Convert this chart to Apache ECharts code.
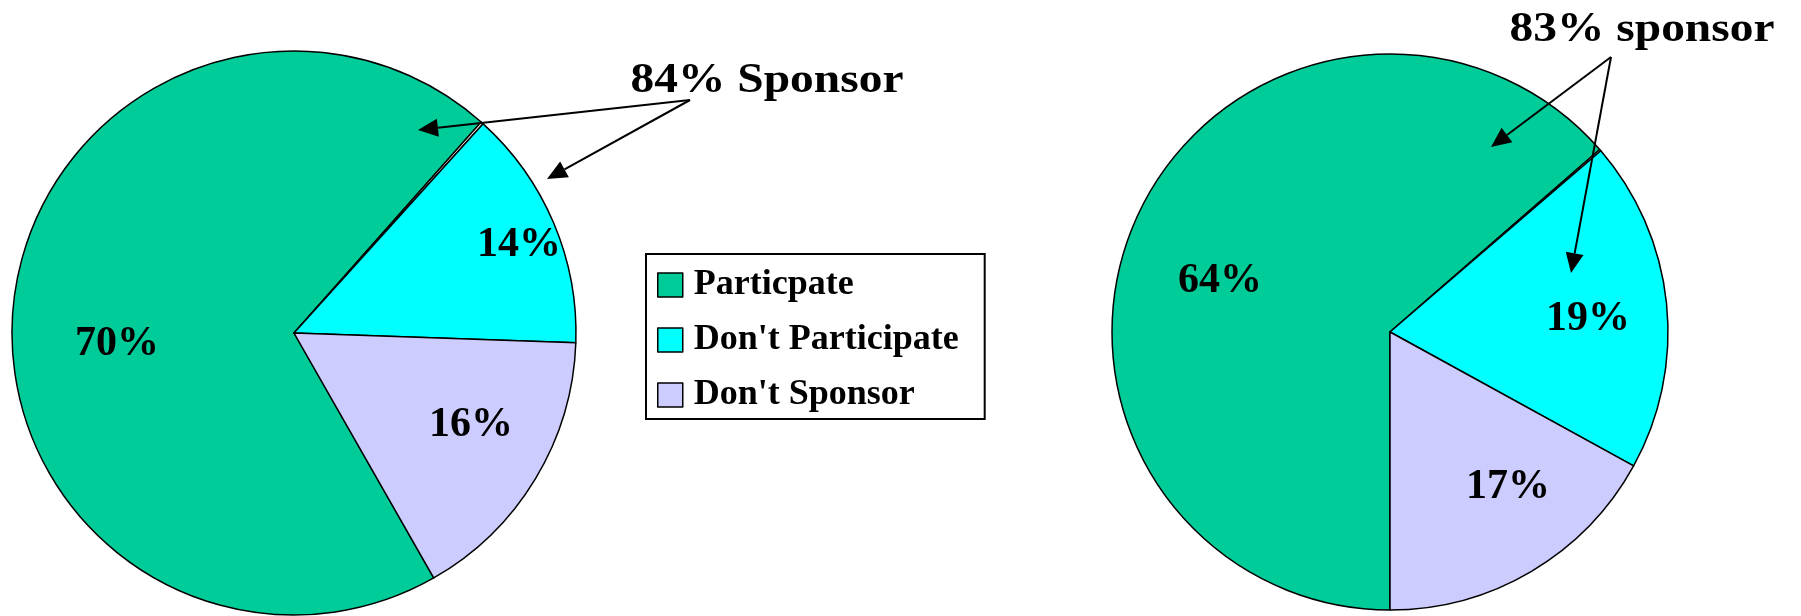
<!DOCTYPE html>
<html>
<head>
<meta charset="utf-8">
<script src="https://cdn.jsdelivr.net/npm/echarts@6/dist/echarts.min.js"></script>
<style>
  html, body { margin: 0; padding: 0; background: #ffffff; }
  #chart { width: 1801px; height: 616px; }
</style>
</head>
<body>
<div id="chart"></div>
<script>
// ---- data ----
const categories = ['Particpate', "Don't Participate", "Don't Sponsor"];
const leftValues = [69.8, 13.85, 16.2];     // Particpate, Don't Participate, Don't Sponsor
const leftSliver = 0.15;                    // thin unlabeled slice between green and cyan
const rightValues = [63.6, 19.3, 17.0];
const rightSliver = 0.1;
const leftCallout = '84% Sponsor';
const rightCallout = '83% sponsor';

// ---- styles ----
const colors = ['#00CC99', '#00FFFF', '#CCCCFF'];
const sliverColor = '#FFFFFF';
const FONT = "'Liberation Serif', 'Times New Roman', serif";
// label offsets (px) from pie centre, indexed like the pie data: green, sliver, cyan, lavender
const leftLabelOffsets = [[-177, 11], [0, 0], [225, -88], [177, 92]];
const rightLabelOffsets = [[-170, -51], [0, 0], [198, -13], [118, 155]];

function buildData(values, sliver) {
  // order around the pie (clockwise): green, sliver, cyan, lavender
  return [
    { name: categories[0], value: values[0], itemStyle: { color: colors[0] } },
    { name: 'sliver', value: sliver, itemStyle: { color: sliverColor }, label: { show: false } },
    { name: categories[1], value: values[1], itemStyle: { color: colors[1] } },
    { name: categories[2], value: values[2], itemStyle: { color: colors[2] } }
  ];
}

function placeLabels(cx, cy, offsets) {
  return function (p) {
    const o = offsets[p.dataIndex];
    return { x: cx + o[0], y: cy + o[1], align: 'center', verticalAlign: 'middle' };
  };
}

function pieSeries(values, sliver, cx, cy, r, startAngle, offsets) {
  return {
    type: 'pie',
    center: [cx, cy],
    radius: [0, r],
    startAngle: startAngle,
    clockwise: true,
    avoidLabelOverlap: false,
    animation: false,
    emphasis: { disabled: true },
    itemStyle: { borderColor: '#000000', borderWidth: 1.5 },
    label: {
      show: true,
      position: 'inside',
      formatter: function (p) { return Math.round(p.value) + '%'; },
      color: '#000000',
      fontFamily: FONT,
      fontWeight: 'bold',
      fontSize: 42
    },
    labelLine: { show: false },
    labelLayout: placeLabels(cx, cy, offsets),
    data: buildData(values, sliver)
  };
}

function arrow(x1, y1, x2, y2) {
  const len = 20, half = 9;
  const dx = x2 - x1, dy = y2 - y1;
  const d = Math.sqrt(dx * dx + dy * dy);
  const ux = dx / d, uy = dy / d;
  const bx = x2 - ux * len, by = y2 - uy * len;
  return [
    { type: 'line', shape: { x1: x1, y1: y1, x2: bx, y2: by }, style: { stroke: '#000', lineWidth: 2 }, z: 100 },
    { type: 'polygon', shape: { points: [[x2, y2], [bx - uy * half, by + ux * half], [bx + uy * half, by - ux * half]] }, style: { fill: '#000' }, z: 100 }
  ];
}

const chart = echarts.init(document.getElementById('chart'), null, { renderer: 'canvas' });
chart.setOption({
  backgroundColor: '#ffffff',
  animation: false,
  legend: {
    data: categories,
    orient: 'vertical',
    left: 646,
    top: 254,
    padding: [13, 26, 6, 11],
    itemGap: 19,
    itemWidth: 25,
    itemHeight: 24,
    borderColor: '#000000',
    borderWidth: 2,
    backgroundColor: '#ffffff',
    selectedMode: false,
    icon: 'rect',
    itemStyle: { borderColor: '#000', borderWidth: 1.5 },
    textStyle: {
      fontFamily: FONT,
      fontWeight: 'bold',
      fontSize: 36,
      color: '#000000',
      padding: [0, 0, 0, 6]
    }
  },
  series: [
    pieSeries(leftValues, leftSliver, 294, 333, 282, 299.7, leftLabelOffsets),
    pieSeries(rightValues, rightSliver, 1390, 332, 278, 270, rightLabelOffsets)
  ],
  graphic: [
    { type: 'text', x: 767, y: 81, scaleX: 1.13, style: { text: leftCallout, font: "bold 42px " + FONT, fill: '#000', align: 'center', verticalAlign: 'middle' }, z: 100 },
    { type: 'text', x: 1642, y: 30, scaleX: 1.13, style: { text: rightCallout, font: "bold 42px " + FONT, fill: '#000', align: 'center', verticalAlign: 'middle' }, z: 100 }
  ].concat(arrow(690, 100, 418, 130), arrow(690, 100, 547, 179), arrow(1611, 57, 1491, 147), arrow(1611, 57, 1571, 273))
});
</script>
</body>
</html>
